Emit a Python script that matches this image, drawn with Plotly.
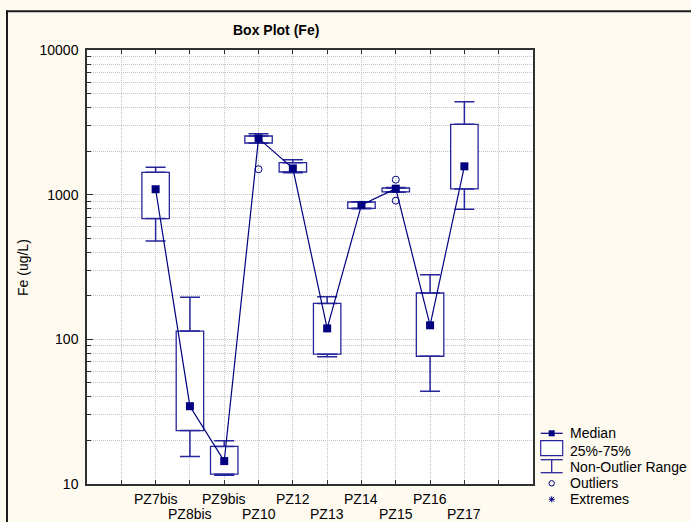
import plotly.graph_objects as go

# ---------------- data ----------------
categories = ["PZ7bis", "PZ8bis", "PZ9bis", "PZ10", "PZ12",
              "PZ13", "PZ14", "PZ15", "PZ16", "PZ17"]
median     = [1090, 34.5, 14.4, 2450, 1520, 119, 849, 1100, 125, 1570]
q25        = [683, 23.4, 11.7, 2276, 1435, 78.9, 805, 1044, 76.4, 1095]
q75        = [1428, 114, 18.2, 2545, 1665, 177, 890, 1112, 209, 3066]
whisk_low  = [478, 15.5, 11.5, 2270, 1420, 75.9, 800, 1040, 43.8, 793]
whisk_high = [1547, 195, 19.9, 2640, 1745, 197, 895, 1120, 280, 4393]
outlier_cat = ["PZ10", "PZ15", "PZ15"]
outlier_val = [1499, 1269, 909]
y_tickvals = [10, 100, 1000, 10000]
y_ticktext = ["10", "100", "1000", "10000"]
legend_labels = ["Median", "25%-75%", "Non-Outlier Range", "Outliers", "Extremes"]

# ---------------- style ----------------
W, H = 691, 522
NAVY = "#000080"
BOXC = "#26269a"
FONT = "Liberation Sans, Arial, sans-serif"
GRID = "#c2c2c2"
GDASH = "1px,1px"
AXC = "#303030"
BG = "#FFFAF0"

n = len(categories)
pos = list(range(n))
idx = {c: i for i, c in enumerate(categories)}

def px(x):
    return x / W

def py(y):
    return 1 - y / H

fig = go.Figure()

# boxes (25%-75%)
fig.add_trace(go.Bar(
    x=pos, base=q25, y=[b - a for a, b in zip(q25, q75)], width=0.8,
    marker=dict(color="white", line=dict(color=BOXC, width=1.3)),
    showlegend=False, hoverinfo="skip"))

# upper whiskers
fig.add_trace(go.Scatter(
    x=pos, y=q75, mode="markers", marker=dict(opacity=0, size=1),
    error_y=dict(type="data", symmetric=False,
                 array=[h - b for b, h in zip(q75, whisk_high)],
                 arrayminus=[0] * n, color=BOXC, thickness=1.5, width=10),
    showlegend=False, hoverinfo="skip"))
# lower whiskers
fig.add_trace(go.Scatter(
    x=pos, y=q25, mode="markers", marker=dict(opacity=0, size=1),
    error_y=dict(type="data", symmetric=False,
                 array=[0] * n,
                 arrayminus=[a - l for a, l in zip(q25, whisk_low)],
                 color=BOXC, thickness=1.5, width=10),
    showlegend=False, hoverinfo="skip"))

# medians connected
fig.add_trace(go.Scatter(
    x=pos, y=median, mode="lines+markers",
    line=dict(color=NAVY, width=1.2),
    marker=dict(symbol="square", size=8, color=NAVY),
    showlegend=False))

# outliers
fig.add_trace(go.Scatter(
    x=[idx[c] for c in outlier_cat], y=outlier_val, mode="markers",
    marker=dict(symbol="circle-open", size=7, color=NAVY, line=dict(width=1)),
    showlegend=False))

# ---------------- axes ----------------
x_tickvals = list(range(-2, n + 2))
minor_vals = [m * 10 ** k for k in (1, 2, 3) for m in range(2, 10)]

X0, X1, Y0, Y1 = 87, 533, 50, 484

fig.update_layout(
    template="none",
    width=W, height=H,
    margin=dict(l=0, r=0, t=0, b=0),
    paper_bgcolor=BG, plot_bgcolor="white",
    font=dict(family=FONT, size=14, color="black"),
    showlegend=False,
    xaxis=dict(
        domain=[px(X0), px(X1)], range=[-2, n + 1],
        tickmode="array", tickvals=x_tickvals, showticklabels=False,
        ticks="inside", ticklen=4, tickcolor=AXC, tickwidth=1,
        showline=True, linecolor=AXC, linewidth=1.5, mirror="ticks",
        showgrid=True, gridcolor=GRID, griddash=GDASH, gridwidth=1,
        zeroline=False,
    ),
    yaxis=dict(
        domain=[py(Y1), py(Y0)], type="log", range=[1, 4],
        tickmode="array", tickvals=y_tickvals, ticktext=y_ticktext,
        ticks="inside", ticklen=6, tickcolor=AXC, tickwidth=1,
        showline=True, linecolor=AXC, linewidth=1.5, mirror=True,
        showgrid=True, gridcolor=GRID, griddash=GDASH, gridwidth=1,
        minor=dict(tickmode="array", tickvals=minor_vals, ticks="inside",
                   ticklen=4, tickcolor=AXC, showgrid=True,
                   gridcolor=GRID, griddash=GDASH, gridwidth=1),
        zeroline=False, tickfont=dict(size=14), ticklabelstandoff=4,
    ),
    yaxis2=dict(
        overlaying="y", anchor="x", side="right", range=[0, 10],
        tickmode="linear", tick0=0, dtick=1, ticks="inside", ticklen=3,
        tickcolor=AXC, showticklabels=False, showgrid=False,
        showline=False, zeroline=False,
    ),
)

# ---------------- frame, title, axis title ----------------
shapes = [
    dict(type="line", xref="paper", yref="paper", x0=px(6), x1=px(W), y0=py(11.3), y1=py(11.3),
         line=dict(color="#1a1a1a", width=2)),
    dict(type="line", xref="paper", yref="paper", x0=px(7), x1=px(7), y0=py(10.5), y1=py(H),
         line=dict(color="#1a1a1a", width=2)),
]
annotations = [
    dict(text="<b>Box Plot (Fe)</b>", x=px(275.5), y=py(30), xref="paper", yref="paper",
         showarrow=False, xanchor="center", yanchor="middle", font=dict(size=14)),
    dict(text="Fe (ug/L)", x=px(23), y=py(268), xref="paper", yref="paper",
         showarrow=False, xanchor="center", yanchor="middle", textangle=-90,
         font=dict(size=14)),
]

# staggered category labels (two rows)
for i, c in enumerate(categories):
    annotations.append(dict(text=c, x=i, xref="x", y=py(499 if i % 2 == 0 else 514),
                            yref="paper", showarrow=False, xanchor="center",
                            yanchor="middle", font=dict(size=14), borderpad=0))

# ---------------- legend (drawn) ----------------
LX0, LX1, LXC = 540.7, 562.7, 551.7
row_y = [433.3, 448.2, 466.3, 483.3, 499.3]
text_y = [433.3, 450.7, 466.7, 483.3, 499.3]
# median glyph
shapes.append(dict(type="line", xref="paper", yref="paper", x0=px(LX0), x1=px(LX1),
                   y0=py(row_y[0]), y1=py(row_y[0]), line=dict(color=NAVY, width=1.2)))
shapes.append(dict(type="rect", xref="paper", yref="paper", x0=px(LXC - 3), x1=px(LXC + 3),
                   y0=py(row_y[0] - 3), y1=py(row_y[0] + 3), fillcolor=NAVY,
                   line=dict(color=NAVY, width=0)))
# box glyph
shapes.append(dict(type="rect", xref="paper", yref="paper", x0=px(LX0), x1=px(LX1),
                   y0=py(440.7), y1=py(455.7), fillcolor="white",
                   line=dict(color=BOXC, width=1.2)))
# whisker glyph
for (a, b, c, d) in [(LX0, 459.7, LX1, 459.7), (LXC, 459.7, LXC, 472.7), (LX0, 472.7, LX1, 472.7)]:
    shapes.append(dict(type="line", xref="paper", yref="paper", x0=px(a), x1=px(c),
                       y0=py(b), y1=py(d), line=dict(color=BOXC, width=1.3)))
# outlier glyph
shapes.append(dict(type="circle", xref="paper", yref="paper", x0=px(LXC - 2.7), x1=px(LXC + 2.7),
                   y0=py(row_y[3] - 2.7), y1=py(row_y[3] + 2.7),
                   line=dict(color=NAVY, width=1)))
# extremes glyph (asterisk)
r = 3
for (dx, dy) in [(0, r), (r, 0), (r * 0.75, r * 0.75), (r * 0.75, -r * 0.75)]:
    shapes.append(dict(type="line", xref="paper", yref="paper",
                       x0=px(LXC - dx), x1=px(LXC + dx), y0=py(row_y[4] - dy), y1=py(row_y[4] + dy),
                       line=dict(color=NAVY, width=1)))
for lab, ty in zip(legend_labels, text_y):
    annotations.append(dict(text=lab, x=px(567.5), y=py(ty), xref="paper", yref="paper",
                            showarrow=False, xanchor="left", yanchor="middle",
                            font=dict(size=14)))

fig.update_layout(shapes=shapes, annotations=annotations)
fig.write_html("out.html")
